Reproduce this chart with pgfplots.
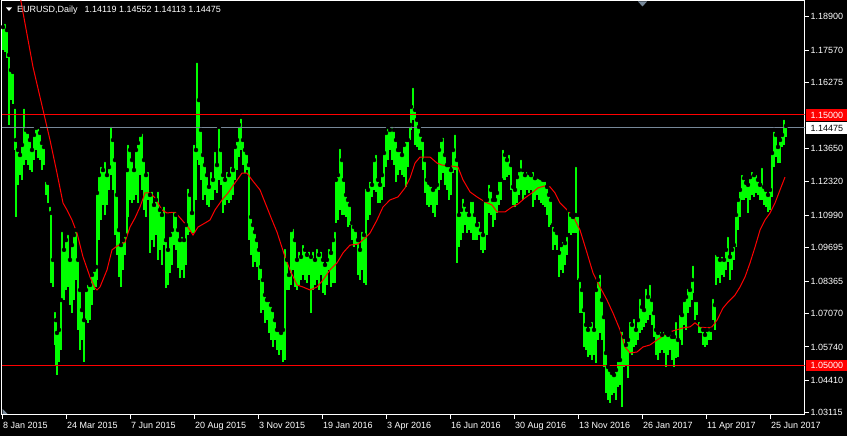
\documentclass[border=0pt]{standalone}
\usepackage{fontspec}
\setmainfont{Liberation Sans}
\usepackage{pgfplots}
\usepackage{pgfplotstable}
\pgfplotsset{compat=1.18}
\definecolor{barg}{RGB}{0,255,0}
\definecolor{mared}{RGB}{255,0,0}
\definecolor{lgray}{RGB}{119,136,153}
\pgfplotstableread{
x h l
3 1.1849 1.1758
5 1.1869 1.1750
7 1.1837 1.1726
9 1.1738 1.1459
11 1.1678 1.1558
13 1.1670 1.1542
15 1.1531 1.1359
16 1.1399 1.1092
18 1.1359 1.1220
20 1.1339 1.1259
22 1.1379 1.1240
24 1.1531 1.1299
26 1.1439 1.1319
28 1.1431 1.1299
30 1.1399 1.1279
32 1.1359 1.1271
34 1.1419 1.1319
36 1.1447 1.1359
38 1.1451 1.1327
40 1.1427 1.1319
42 1.1387 1.1279
44 1.1371 1.1299
46 1.1240 1.1180
48 1.1228 1.1148
50 1.1140 1.1108
51 1.1108 1.0829
53 1.0921 1.0813
55 1.0721 1.0582
56 1.0681 1.0502
57 1.0630 1.0462
59 1.0642 1.0514
61 1.0761 1.0562
62 1.1040 1.0761
64 1.0961 1.0761
66 1.1000 1.0801
68 1.1028 1.0813
70 1.0921 1.0741
72 1.0980 1.0709
74 1.1020 1.0761
76 1.1040 1.0841
78 1.0921 1.0642
80 1.0801 1.0562
82 1.0721 1.0602
84 1.0681 1.0514
86 1.0801 1.0681
88 1.0829 1.0670
90 1.0821 1.0681
92 1.0861 1.0741
94 1.0881 1.0801
96 1.0893 1.0813
97 1.1188 1.0841
99 1.1259 1.1000
101 1.1299 1.1080
103 1.1279 1.1140
105 1.1319 1.1100
107 1.1259 1.1140
109 1.1291 1.1200
111 1.1459 1.1259
113 1.1399 1.1200
115 1.1319 1.1020
117 1.1180 1.0941
119 1.1040 1.0853
121 1.0980 1.0813
123 1.1000 1.0881
125 1.1020 1.0941
127 1.1279 1.1020
128 1.1387 1.1092
130 1.1359 1.1160
132 1.1319 1.1148
134 1.1279 1.1160
136 1.1359 1.1180
138 1.1387 1.1148
140 1.1419 1.1259
142 1.1431 1.1200
144 1.1319 1.1120
146 1.1259 1.1092
148 1.1279 1.1160
150 1.1180 1.0949
152 1.1200 1.1000
154 1.1140 1.0972
156 1.1160 1.1020
158 1.1200 1.0921
160 1.1120 1.0961
162 1.1100 1.0901
164 1.1140 1.0980
166 1.1000 1.0809
168 1.0961 1.0821
170 1.1020 1.0869
172 1.1040 1.0901
174 1.1120 1.0980
176 1.1100 1.0961
178 1.1040 1.0889
180 1.1000 1.0849
182 1.1020 1.0881
184 1.1000 1.0849
186 1.1060 1.0901
188 1.1212 1.1020
190 1.1180 1.1032
192 1.1108 1.1028
194 1.1387 1.1028
196 1.1359 1.1160
197 1.1714 1.1319
199 1.1558 1.1299
201 1.1439 1.1240
203 1.1339 1.1160
205 1.1299 1.1180
207 1.1259 1.1140
209 1.1212 1.1132
211 1.1279 1.1160
213 1.1240 1.1160
215 1.1359 1.1200
217 1.1299 1.1188
219 1.1451 1.1240
221 1.1359 1.1220
223 1.1259 1.1108
225 1.1240 1.1140
227 1.1279 1.1160
229 1.1259 1.1148
231 1.1299 1.1160
233 1.1279 1.1180
235 1.1371 1.1240
237 1.1399 1.1279
239 1.1459 1.1331
241 1.1491 1.1359
243 1.1399 1.1299
245 1.1359 1.1267
247 1.1347 1.1279
249 1.1299 1.1000
251 1.1092 1.0941
253 1.1060 1.0893
255 1.1032 1.0913
257 1.1000 1.0893
259 1.0961 1.0841
261 1.0893 1.0709
263 1.0841 1.0721
265 1.0781 1.0670
267 1.0761 1.0681
269 1.0761 1.0630
271 1.0741 1.0602
273 1.0721 1.0574
275 1.0681 1.0602
277 1.0642 1.0562
279 1.0642 1.0542
281 1.0630 1.0562
283 1.0642 1.0514
285 1.0972 1.0522
287 1.0921 1.0801
289 1.0861 1.0801
291 1.1040 1.0821
293 1.1052 1.0881
295 1.1000 1.0813
297 1.0921 1.0801
299 1.0961 1.0821
301 1.0933 1.0841
303 1.0988 1.0861
305 1.0961 1.0841
307 1.0941 1.0829
309 1.0961 1.0861
311 1.0933 1.0709
313 1.0961 1.0801
315 1.0921 1.0821
317 1.0972 1.0841
319 1.0941 1.0801
321 1.0961 1.0861
323 1.0921 1.0789
325 1.0901 1.0781
327 1.0921 1.0821
329 1.0972 1.0881
331 1.0949 1.0813
333 1.1000 1.0829
335 1.1040 1.0829
336 1.1240 1.1068
338 1.1259 1.1080
340 1.1371 1.1120
342 1.1319 1.1100
344 1.1240 1.1100
346 1.1180 1.1092
348 1.1160 1.1052
350 1.1140 1.1060
352 1.1068 1.1000
354 1.1052 1.0972
356 1.1040 1.0980
358 1.1000 1.0861
360 1.0961 1.0841
362 1.1040 1.0881
364 1.1020 1.0829
366 1.1212 1.0821
368 1.1200 1.1080
370 1.1240 1.1100
372 1.1220 1.1172
374 1.1319 1.1200
376 1.1347 1.1192
378 1.1240 1.1148
380 1.1220 1.1148
382 1.1259 1.1160
384 1.1347 1.1212
386 1.1427 1.1291
388 1.1451 1.1319
390 1.1439 1.1359
392 1.1459 1.1319
394 1.1439 1.1299
396 1.1399 1.1232
398 1.1359 1.1259
400 1.1359 1.1279
402 1.1339 1.1259
404 1.1379 1.1251
406 1.1399 1.1212
408 1.1399 1.1291
410 1.1459 1.1399
411 1.1531 1.1439
413 1.1614 1.1479
415 1.1519 1.1379
417 1.1479 1.1371
419 1.1451 1.1359
421 1.1419 1.1359
423 1.1399 1.1279
425 1.1319 1.1188
427 1.1240 1.1140
429 1.1228 1.1132
431 1.1220 1.1140
433 1.1200 1.1108
435 1.1212 1.1092
437 1.1220 1.1140
439 1.1359 1.1200
441 1.1399 1.1240
443 1.1415 1.1267
445 1.1339 1.1220
447 1.1299 1.1200
449 1.1299 1.1160
451 1.1279 1.1180
453 1.1359 1.1267
455 1.1427 1.1279
457 1.1319 1.0909
459 1.1100 1.0972
461 1.1120 1.1000
463 1.1172 1.1028
465 1.1140 1.1060
467 1.1120 1.1028
469 1.1100 1.1040
471 1.1160 1.1028
473 1.1160 1.1000
475 1.1100 1.1000
477 1.1060 1.1000
479 1.1080 1.1020
481 1.1040 1.0961
483 1.1020 1.0949
485 1.1160 1.0961
487 1.1160 1.1020
489 1.1228 1.1108
491 1.1200 1.1100
493 1.1160 1.1052
495 1.1160 1.1080
497 1.1188 1.1108
499 1.1240 1.1140
501 1.1240 1.1160
503 1.1367 1.1240
505 1.1339 1.1240
507 1.1319 1.1251
509 1.1347 1.1259
511 1.1299 1.1200
513 1.1212 1.1140
515 1.1200 1.1132
517 1.1251 1.1148
519 1.1279 1.1180
521 1.1327 1.1200
523 1.1279 1.1160
525 1.1259 1.1180
527 1.1279 1.1200
529 1.1267 1.1188
531 1.1259 1.1200
533 1.1279 1.1132
535 1.1247 1.1160
537 1.1259 1.1180
539 1.1251 1.1160
541 1.1247 1.1148
543 1.1240 1.1140
545 1.1240 1.1132
547 1.1212 1.1100
549 1.1180 1.1052
551 1.1160 1.1060
553 1.1060 1.0961
555 1.1040 1.0980
557 1.1028 1.0961
559 1.0949 1.0853
561 1.0980 1.0881
563 1.1000 1.0869
565 1.0988 1.0901
567 1.1020 1.0941
569 1.1120 1.1028
571 1.1100 1.1020
573 1.1092 1.1028
575 1.1100 1.1028
576 1.1299 1.1028
578 1.1100 1.0841
580 1.0841 1.0709
582 1.0801 1.0709
584 1.0721 1.0574
586 1.0662 1.0562
588 1.0642 1.0534
590 1.0662 1.0542
592 1.0681 1.0522
594 1.0642 1.0542
596 1.0801 1.0510
598 1.0841 1.0602
600 1.0869 1.0630
602 1.0761 1.0602
604 1.0693 1.0494
606 1.0550 1.0390
608 1.0494 1.0363
610 1.0482 1.0351
612 1.0470 1.0383
614 1.0462 1.0390
616 1.0482 1.0363
618 1.0522 1.0414
620 1.0522 1.0422
622 1.0642 1.0335
624 1.0614 1.0494
626 1.0582 1.0502
628 1.0602 1.0450
630 1.0681 1.0550
632 1.0662 1.0542
634 1.0693 1.0574
636 1.0642 1.0582
638 1.0681 1.0602
640 1.0773 1.0630
642 1.0733 1.0642
644 1.0721 1.0654
646 1.0813 1.0670
648 1.0773 1.0681
650 1.0829 1.0701
652 1.0761 1.0662
654 1.0709 1.0614
656 1.0642 1.0542
658 1.0630 1.0522
660 1.0642 1.0550
662 1.0622 1.0562
664 1.0642 1.0550
666 1.0630 1.0494
668 1.0622 1.0542
670 1.0630 1.0562
672 1.0614 1.0522
674 1.0614 1.0494
676 1.0681 1.0530
678 1.0602 1.0534
680 1.0709 1.0602
682 1.0701 1.0582
684 1.0761 1.0662
686 1.0773 1.0642
688 1.0813 1.0709
690 1.0801 1.0733
692 1.0841 1.0761
693 1.0905 1.0789
695 1.0761 1.0681
697 1.0761 1.0701
699 1.0681 1.0630
701 1.0662 1.0630
703 1.0642 1.0582
705 1.0622 1.0574
707 1.0642 1.0582
709 1.0662 1.0602
711 1.0642 1.0602
713 1.0773 1.0681
715 1.0741 1.0642
716 1.0949 1.0821
718 1.0941 1.0849
720 1.0921 1.0829
722 1.0941 1.0861
724 1.0921 1.0853
726 1.0961 1.0881
728 1.1020 1.0913
730 1.0933 1.0841
732 1.0961 1.0881
734 1.0980 1.0921
736 1.1100 1.0972
738 1.1160 1.1040
740 1.1200 1.1092
742 1.1267 1.1160
744 1.1247 1.1160
746 1.1228 1.1168
748 1.1220 1.1108
750 1.1251 1.1160
752 1.1279 1.1180
754 1.1259 1.1172
756 1.1267 1.1188
758 1.1240 1.1180
760 1.1220 1.1160
762 1.1295 1.1160
764 1.1212 1.1140
766 1.1200 1.1132
768 1.1180 1.1112
770 1.1200 1.1120
772 1.1347 1.1172
774 1.1439 1.1291
776 1.1419 1.1331
778 1.1371 1.1307
780 1.1399 1.1307
782 1.1419 1.1371
784 1.1487 1.1379
786 1.1455 1.1411
}\bars
\pgfplotstableread{
x ma
20 1.1973
22 1.1929
33 1.1690
43 1.1519
50 1.1399
57 1.1267
63 1.1148
67 1.1120
72 1.1080
77 1.1028
83 1.0933
90 1.0853
95 1.0809
97 1.0801
100 1.0813
107 1.0881
112 1.0961
117 1.0976
125 1.0992
130 1.1052
135 1.1088
140 1.1132
145 1.1188
150 1.1188
155 1.1168
162 1.1120
167 1.1108
175 1.1112
182 1.1080
188 1.1052
193 1.1020
198 1.1052
205 1.1068
210 1.1080
215 1.1120
222 1.1160
228 1.1188
235 1.1228
242 1.1267
247 1.1267
252 1.1240
260 1.1200
268 1.1120
272 1.1080
277 1.1032
285 1.0933
290 1.0881
297 1.0821
303 1.0813
310 1.0801
317 1.0813
323 1.0841
330 1.0881
337 1.0909
343 1.0949
350 1.0980
358 1.0984
365 1.1008
370 1.1028
377 1.1080
383 1.1132
390 1.1160
398 1.1172
405 1.1208
410 1.1247
415 1.1307
420 1.1331
430 1.1331
437 1.1307
442 1.1299
452 1.1295
458 1.1291
463 1.1240
470 1.1192
477 1.1172
485 1.1152
492 1.1140
497 1.1112
505 1.1112
512 1.1132
518 1.1144
525 1.1168
532 1.1188
538 1.1208
545 1.1216
550 1.1212
555 1.1188
560 1.1148
567 1.1120
573 1.1096
580 1.1040
587 1.0949
593 1.0869
600 1.0813
607 1.0761
613 1.0709
620 1.0642
625 1.0574
630 1.0550
637 1.0554
643 1.0574
650 1.0582
660 1.0610
667 1.0630
673 1.0638
683 1.0650
690 1.0654
695 1.0670
700 1.0654
707 1.0650
712 1.0654
717 1.0681
723 1.0729
728 1.0753
735 1.0781
740 1.0813
745 1.0853
750 1.0909
755 1.0972
760 1.1040
765 1.1080
770 1.1108
775 1.1148
780 1.1200
785 1.1251
}\matab
\begin{document}
\begin{tikzpicture}[x=1bp,y=1bp]
\useasboundingbox (0,0) rectangle (847,436);
\fill[black] (0,0) rectangle (847,436);
\begin{axis}[
  at={(1.5bp,21bp)}, anchor=south west,
  scale only axis, width=803bp, height=414bp,
  xmin=1.5, xmax=804.5, ymin=1.03028, ymax=1.19530,
  axis line style={white, line width=1bp},
  tick style={white, line width=1bp},
  tick align=outside, major tick length=4bp,
  xtick pos=left, ytick pos=right,
  xtick={2,66,130,194,258,322,386,450,514,578,642,706,770},
  xticklabels={8 Jan 2015,24 Mar 2015,7 Jun 2015,20 Aug 2015,3 Nov 2015,19 Jan 2016,3 Apr 2016,16 Jun 2016,30 Aug 2016,13 Nov 2016,26 Jan 2017,11 Apr 2017,25 Jun 2017},
  ytick={1.18900,1.17570,1.16275,1.13650,1.12320,1.10990,1.09695,1.08365,1.07070,1.05740,1.04410,1.03115},
  yticklabels={1.18900,1.17570,1.16275,1.13650,1.12320,1.10990,1.09695,1.08365,1.07070,1.05740,1.04410,1.03115},
  yticklabel pos=right,
  tick label style={white, font=\fontsize{9bp}{10bp}\selectfont, inner sep=0pt},
  yticklabel style={anchor=west, xshift=2bp},
  xticklabel style={anchor=base west, xshift=1bp, yshift=-10bp},
  clip=true,
]
\addplot[only marks, mark=none,
  error bars/.cd, y dir=minus, y explicit, error mark=none,
  error bar style={draw=barg, line width=2.1bp}]
  table[x=x, y=h, y error minus expr=\thisrow{h}-\thisrow{l}] {\bars};
\addplot[mared, line width=1bp, mark=none] table[x=x, y=ma] {\matab};
\addplot[mared, line width=1.2bp, mark=none] coordinates {(1.5,1.15) (804.5,1.15)};
\addplot[lgray, line width=1.2bp, mark=none] coordinates {(1.5,1.14475) (804.5,1.14475)};
\addplot[mared, line width=1.3bp, mark=none] coordinates {(1.5,1.05) (804.5,1.05)};
\end{axis}
% header
\fill[white] (6,428.5) -- (12,428.5) -- (9,425) -- cycle;
\node[anchor=base west, inner sep=0pt, text=white, font=\fontsize{9bp}{10bp}\selectfont] at (17,423)
  {EURUSD,Daily\hspace{7bp}1.14119 1.14552 1.14113 1.14475};
% markers
\fill[lgray] (638,434.5) -- (647,434.5) -- (642.5,429.5) -- cycle;
\fill[lgray] (2.5,27) -- (2.5,22) -- (7.5,22) -- cycle;
% price labels
\fill[mared] (806,315) rectangle (847,327);
\node[anchor=west, inner sep=0pt, text=white, font=\fontsize{9bp}{10bp}\selectfont] at (810.5,321) {1.15000};
\fill[white] (806,302) rectangle (847,313.5);
\node[anchor=west, inner sep=0pt, text=black, font=\fontsize{9bp}{10bp}\selectfont] at (810.5,307.5) {1.14475};
\fill[mared] (806,65) rectangle (847,76);
\node[anchor=west, inner sep=0pt, text=white, font=\fontsize{9bp}{10bp}\selectfont] at (810.5,70.5) {1.05000};
\end{tikzpicture}
\end{document}
